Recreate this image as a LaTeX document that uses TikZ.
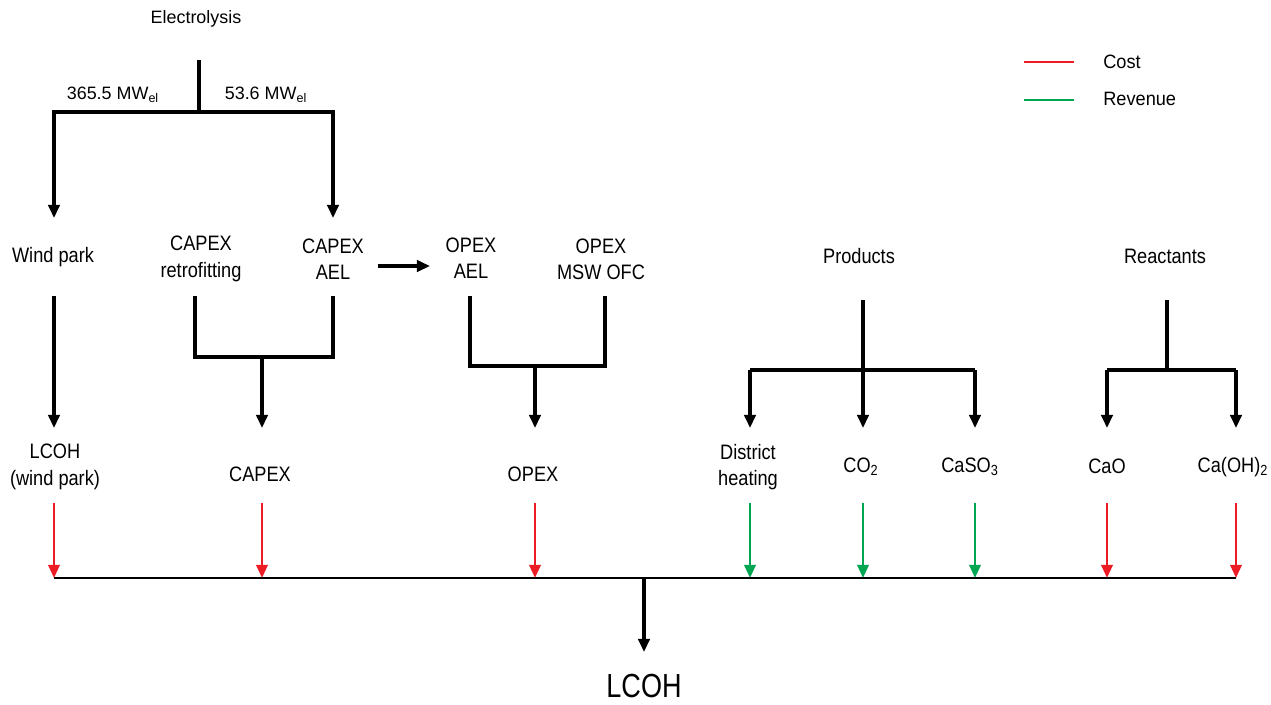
\documentclass[tikz,border=0pt]{standalone}
\usepackage{fontspec}
\setmainfont{Liberation Sans}
\newfontfamily\narrowfont[FakeStretch=0.87]{Liberation Sans}
\newfontfamily\legendfont[FakeStretch=0.94]{Liberation Sans}
\newfontfamily\bigfont[FakeStretch=0.81]{Liberation Sans}
\usetikzlibrary{arrows.meta}
\definecolor{costred}{RGB}{237,28,36}
\definecolor{revgreen}{RGB}{0,166,81}
\begin{document}
\begin{tikzpicture}[x=0.02cm,y=-0.02cm,
  lbl/.style={font=\narrowfont\fontsize{11.9}{15}\selectfont, align=center, inner sep=0pt},
  leglbl/.style={font=\legendfont\fontsize{11}{13}\selectfont, inner sep=0pt},
  toplbl/.style={font=\fontsize{10.2}{12}\selectfont, inner sep=0pt},
  biglbl/.style={font=\bigfont\fontsize{19}{22}\selectfont, inner sep=0pt},
  flow/.style={line width=1.8pt, black},
  flowarrow/.style={flow, -{Triangle[width=6.5pt,length=7.5pt]}},
  costarrow/.style={line width=1.4pt, costred, -{Triangle[width=6.5pt,length=7.5pt]}},
  revarrow/.style={line width=1.4pt, revgreen, -{Triangle[width=6.5pt,length=7.5pt]}},
  baseline/.style={line width=0.7pt, black}
]
\useasboundingbox (0,0) rectangle (1271,704);

% ---- top: electrolysis split
\node[toplbl] (elec) at (196,19) {Electrolysis};
\node[toplbl] (p1) at (113,95) {365.5 MW\textsubscript{el}};
\node[toplbl] (p2) at (266,95) {53.6 MW\textsubscript{el}};
\coordinate (e0) at (199,60);
\coordinate (esplit) at (199,112);
\coordinate (eL) at (54,112);
\coordinate (eR) at (333,112);
\coordinate (wpIn) at (54,218);
\coordinate (caelIn) at (333,218);
\draw[flow] (e0) -- (esplit);
\draw[flowarrow] (esplit) -- (eL) -- (wpIn);
\draw[flowarrow] (esplit) -- (eR) -- (caelIn);

% ---- middle row labels
\node[lbl] (windpark) at (53,257) {Wind park};
\node[lbl] (caperetro) at (201,259) {CAPEX\\retrofitting};
\node[lbl] (capeael) at (333,259) {CAPEX\\AEL};
\node[lbl] (opexael) at (471,258) {OPEX\\AEL};
\node[lbl] (opexmsw) at (601,259) {OPEX\\MSW OFC};
\node[lbl] (products) at (859,256) {Products};
\node[lbl] (reactants) at (1165,256) {Reactants};

\coordinate (caelOut) at (378,266);
\coordinate (oaelIn) at (430,266);
\draw[flowarrow] (caelOut) -- (oaelIn);

% ---- wind park branch
\coordinate (wpOut) at (54,296);
\coordinate (lwpIn) at (54,428);
\draw[flowarrow] (wpOut) -- (lwpIn);

% ---- CAPEX branch
\coordinate (crOut) at (195,296);
\coordinate (crJ) at (195,357);
\coordinate (caOut) at (333,296);
\coordinate (caJ) at (333,357);
\coordinate (capJ) at (262,357);
\coordinate (capIn) at (262,428);
\draw[flow] (crOut) -- (crJ) -- (caJ) -- (caOut);
\draw[flowarrow] (capJ) -- (capIn);

% ---- OPEX branch
\coordinate (oaOut) at (470,296);
\coordinate (oaJ) at (470,366);
\coordinate (omOut) at (605,296);
\coordinate (omJ) at (605,366);
\coordinate (opJ) at (535,366);
\coordinate (opIn) at (535,428);
\draw[flow] (oaOut) -- (oaJ) -- (omJ) -- (omOut);
\draw[flowarrow] (opJ) -- (opIn);

% ---- Products branch
\coordinate (prOut) at (863,300);
\coordinate (prJ) at (863,370);
\coordinate (prL) at (750,370);
\coordinate (prR) at (975,370);
\coordinate (dhIn) at (750,428);
\coordinate (co2In) at (863,428);
\coordinate (caso3In) at (975,428);
\draw[flow] (prOut) -- (prJ);
\draw[flow] (prL) -- (prR);
\draw[flowarrow] (prL) -- (dhIn);
\draw[flowarrow] (prJ) -- (co2In);
\draw[flowarrow] (prR) -- (caso3In);

% ---- Reactants branch
\coordinate (reOut) at (1167,300);
\coordinate (reJ) at (1167,370);
\coordinate (reL) at (1107,370);
\coordinate (reR) at (1236,370);
\coordinate (caoIn) at (1107,428);
\coordinate (caohIn) at (1236,428);
\draw[flow] (reOut) -- (reJ);
\draw[flow] (reL) -- (reR);
\draw[flowarrow] (reL) -- (caoIn);
\draw[flowarrow] (reR) -- (caohIn);

% ---- bottom row labels
\node[lbl] (lcohwp) at (55,467) {LCOH\\(wind park)};
\node[lbl] (capex) at (260,474) {CAPEX};
\node[lbl] (opex) at (533,474) {OPEX};
\node[lbl] (dh) at (748,467) {District\\heating};
\node[lbl] (co2) at (861,467) {CO\textsubscript{2}};
\node[lbl] (caso3) at (970,467) {CaSO\textsubscript{3}};
\node[lbl] (cao) at (1107,466) {CaO};
\node[lbl] (caoh) at (1233,467) {Ca(OH)\textsubscript{2}};

% ---- colored arrows to the summation line
\foreach \x/\n in {54/a,262/b,535/c,1107/g,1236/h} {
  \coordinate (s\n) at (\x,503);
  \coordinate (t\n) at (\x,578);
  \draw[costarrow] (s\n) -- (t\n);
}
\foreach \x/\n in {750/d,863/e,975/f} {
  \coordinate (s\n) at (\x,503);
  \coordinate (t\n) at (\x,578);
  \draw[revarrow] (s\n) -- (t\n);
}
\draw[baseline] (ta) -- (th);

% ---- result
\coordinate (sumJ) at (644,578);
\coordinate (lcohIn) at (644,652);
\draw[flowarrow] (sumJ) -- (lcohIn);
\node[biglbl] (lcoh) at (644,686) {LCOH};

% ---- legend
\coordinate (lc1) at (1024,62);
\coordinate (lc2) at (1074,62);
\coordinate (lr1) at (1024,100);
\coordinate (lr2) at (1074,100);
\draw[line width=1.6pt, costred] (lc1) -- (lc2);
\draw[line width=1.6pt, revgreen] (lr1) -- (lr2);
\node[leglbl, anchor=west] (cost) at (1103,62) {Cost};
\node[leglbl, anchor=west] (revenue) at (1103,99) {Revenue};
\end{tikzpicture}
\end{document}
